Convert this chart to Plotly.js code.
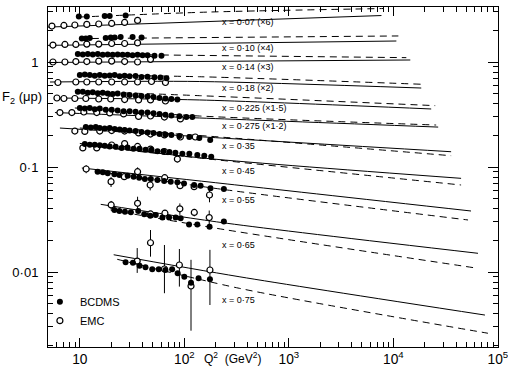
<!DOCTYPE html>
<html><head><meta charset="utf-8">
<script src="https://cdn.plot.ly/plotly-3.0.1.min.js"></script>
<style>html,body{margin:0;padding:0;background:#fff}#chart{width:508px;height:367px}</style>
</head><body><div id="chart"></div>
<script>
// x-bins and their scale factors (as printed on the chart)
const binX = ['0·07','0·10','0·14','0·18','0·225','0·275','0·35','0·45','0·55','0·65','0·75'];
const binScale = ['(×6)','(×4)','(×3)','(×2)','(×1·5)','(×1·2)','','','','',''];

// BCDMS points (Q^2 in GeV^2, F2 as plotted incl. scale factor)
const bcdmsQ = [
 [9.78,11.66,17.30,19.31,27.42],
 [10.45,11.41,12.45,17.69,19.74,21.54,24.58,31.97,38.95],
 [9.57,10.68,11.92,13.30,14.84,16.56,18.48,20.62,23.01,25.67,28.65,31.97,35.68,39.81,44.44,51.80,60.40],
 [10,11.16,12.45,13.90,15.51,17.30,19.31,21.54,24.04,26.83,29.94,34.15,38.95,44.44,51.80,59.0,67.39],
 [9.57,10.68,11.92,13.30,14.84,16.56,18.48,20.62,23.01,26.24,29.94,34.15,38.95,44.44,50.67,57.81,65.92,75.19,85.77],
 [10,11.16,12.45,13.90,15.51,17.69,20.17,23.01,26.24,29.94,34.15,38.95,44.44,50.67,57.81,65.92,75.19,89.64,104.5,119.2],
 [11.41,12.73,14.2,15.51,17.30,19.31,21.54,24.04,26.83,29.94,34.15,38.95,44.44,50.67,57.81,65.92,75.19,89.64,111.6,139.0,176.8],
 [11.16,12.45,13.90,15.51,17.30,19.31,22.03,25.12,28.65,32.68,37.28,42.53,48.49,55.33,63.10,71.97,82.1,95.7,111.6,133.0,155.1,180.8],
 [14.8,16.6,18.5,21.4,23.9,28.7,32.7,37.0,41.9,47.8,55.3,64.1,74.1,85.8,99.3,124,143,178,239],
 [21.4,23.9,27.0,30.8,36.2,41.3,47.2,53.3,61.7,71.4,82.6,92.2,110.9,133,174.2,239],
 [27.42,32.2,37.28,42.5,49.3,56.9,65.92,76.4,86.3,100,115.8,136.8,175.7]
];
const bcdmsF = [
 [2.71,2.71,2.74,2.74,2.77],
 [1.67,1.67,1.69,1.69,1.71,1.71,1.73,1.73,1.71],
 [1.19,1.18,1.19,1.18,1.19,1.17,1.18,1.17,1.18,1.17,1.17,1.16,1.17,1.16,1.16,1.15,1.15],
 [0.75,0.76,0.75,0.74,0.75,0.74,0.745,0.75,0.73,0.74,0.73,0.735,0.72,0.725,0.715,0.71,0.70],
 [0.52,0.52,0.51,0.515,0.505,0.51,0.50,0.495,0.50,0.49,0.485,0.48,0.475,0.47,0.465,0.455,0.45,0.445,0.44],
 [0.365,0.36,0.365,0.355,0.36,0.35,0.35,0.345,0.34,0.34,0.335,0.33,0.33,0.325,0.32,0.315,0.31,0.305,0.30,0.30],
 [0.240,0.2375,0.240,0.235,0.2325,0.235,0.230,0.2275,0.225,0.2225,0.220,0.2154,0.2131,0.2108,0.2062,0.204,0.2017,0.1973,0.1931,0.1889,0.1808],
 [0.166,0.163,0.163,0.161,0.159,0.157,0.156,0.152,0.153,0.149,0.149,0.146,0.146,0.141,0.141,0.139,0.137,0.134,0.134,0.130,0.128,0.125],
 [0.0902,0.0890,0.0871,0.0853,0.0839,0.0826,0.0808,0.0791,0.0769,0.0769,0.0752,0.0736,0.0725,0.0714,0.0698,0.0674,0.0664,0.0626,0.0617],
 [0.0389,0.0381,0.0375,0.0370,0.0381,0.0354,0.0343,0.0349,0.0330,0.0330,0.0330,0.0325,0.0284,0.0284,0.0270,0.0302],
 [0.01237,0.01226,0.01148,0.01108,0.0106,0.0106,0.01045,0.0106,0.00972,0.00902,0.00791,0.00871,0.00852]
];

// EMC points
const emcQ = [
 [5.41,7.04,8.96,11.66,15.17,20.17,26.83,35.68],
 [5.53,7.20,9.16,11.66,15.17,20.17,26.83,35.68],
 [5.53,7.20,9.16,11.66,15.17,20.17,26.83,35.68,47.45],
 [6.17,9.16,11.66,15.17,20.17,26.83,35.68,48.49,65.92],
 [6.04,7.04,8.96,11.41,15.17,19.74,26.83,36.48,47.45,65.92],
 [6.45,8.39,10.92,14.52,19.31,26.24,36.48,47.45,64.50,91.62],
 [8.96,11.16,15.51,20.17,26.83,36.48,47.45,64.50,91.62,127.2],
 [10.68,14.52,20.17,26.83,35.68,47.45,64.5,85.77],
 [11.5,19.9,26.6,35.7,47.1,64.9,91.0,124,174],
 [19.95,35.68,47.45,65.2,90.6,124.5,173],
 [35.4,47.45,64.5,89.64,115.8,175.7]
];
const emcF = [
 [2.20,2.23,2.25,2.28,2.30,2.33,2.38,2.49],
 [1.45,1.47,1.47,1.48,1.48,1.50,1.50,1.52],
 [1.00,1.00,1.01,1.01,1.02,1.02,1.01,1.00,1.06],
 [0.638,0.645,0.645,0.645,0.645,0.645,0.645,0.652,0.638],
 [0.454,0.449,0.449,0.449,0.444,0.444,0.439,0.435,0.435,0.425],
 [0.33,0.33,0.334,0.33,0.327,0.32,0.303,0.306,0.299,0.287],
 [0.220,0.218,0.220,0.2225,0.220,0.211,0.206,0.202,0.193,0.193],
 [0.152,0.152,0.162,0.167,0.157,0.148,0.1405,0.119],
 [0.0957,0.0725,0.0808,0.0902,0.0674,0.0791,0.0664,0.0649,0.0541],
 [0.0435,0.0451,0.0357,0.0363,0.0400,0.0369,0.0330],
 [0.0127,0.0190,0.01068,0.01166,0.00736,0.01045]
];
const emcErrUp = [
 [0.03,0.03,0.03,0.03,0.03,0.03,0.04,0.05],
 [0.02,0.02,0.02,0.02,0.02,0.02,0.02,0.03],
 [0.015,0.015,0.015,0.015,0.015,0.015,0.015,0.015,0.03],
 [0.01,0.008,0.008,0.008,0.008,0.008,0.008,0.01,0.012],
 [0.008,0.006,0.006,0.006,0.006,0.006,0.006,0.006,0.008,0.01],
 [0.006,0.005,0.005,0.005,0.005,0.005,0.006,0.006,0.012,0.014],
 [0.004,0.006,0.003,0.008,0.003,0.003,0.003,0.004,0.010,0.004],
 [0.006,0.004,0.004,0.004,0.006,0.004,0.004,0.008],
 [0.0085,0.008,0.003,0.009,0.0075,0.003,0.003,0.003,0.008],
 [0.004,0.007,0.0024,0.0024,0.005,0.003,0.0055],
 [0.0042,0.0061,0.0074,0.0049,0.0057,0.0058]
];
const emcErrDown = [
 [0.03,0.03,0.03,0.03,0.03,0.03,0.04,0.05],
 [0.02,0.02,0.02,0.02,0.02,0.02,0.02,0.03],
 [0.015,0.015,0.015,0.015,0.015,0.015,0.015,0.015,0.03],
 [0.01,0.008,0.008,0.008,0.008,0.008,0.008,0.01,0.012],
 [0.008,0.006,0.006,0.006,0.006,0.006,0.006,0.006,0.008,0.01],
 [0.006,0.005,0.005,0.005,0.005,0.005,0.006,0.006,0.012,0.014],
 [0.004,0.006,0.003,0.008,0.003,0.003,0.003,0.004,0.010,0.004],
 [0.006,0.004,0.004,0.004,0.006,0.004,0.004,0.008],
 [0.0085,0.008,0.003,0.009,0.0075,0.003,0.003,0.003,0.008],
 [0.004,0.007,0.0024,0.0024,0.005,0.003,0.0055],
 [0.0029,0.0050,0.0044,0.0044,0.0046,0.0056]
];

// QCD fit curves: solid and dashed
const solidQ = [
 [4.96,7690],[4.96,10680],[4.96,14520],[5.18,139,18480],[5.78,139,23010],[5.78,139,26830],
 [6.45,139,35680],[10,139,44440],[10.45,256.7,55330],[15.85,256.7,64500],[21.08,334.1,75190]
];
const solidF = [
 [2.15,2.77],[1.44,1.585],[0.99,1.045],[0.645,0.652,0.565],[0.454,0.435,0.357],[0.33,0.293,0.24],
 [0.235,0.1944,0.1398],[0.1675,0.1226,0.078],[0.0978,0.0689,0.0381],[0.0441,0.0291,0.01507],[0.0146,0.00902,0.00389]
];
const dashedQ = [
 [10,173,8030],[10,11160],[9.57,13300],[9.57,139,19310],[8.96,139,25120],[8.96,139,25670],
 [10,139,35680],[12.45,139,44440],[13.9,256.7,51800],[19.74,256.7,64500],[22.8,334.1,80320]
];
const dashedF = [
 [2.68,2.99,3.23],[1.67,1.77],[1.19,1.10],[0.752,0.724,0.613],[0.529,0.478,0.384],[0.365,0.306,0.251],
 [0.235,0.1995,0.1281],[0.1585,0.1218,0.0674],[0.0916,0.0604,0.0313],[0.0389,0.0251,0.01084],[0.01321,0.0070,0.00261]
];

// layout-only: label placement (paper coords)
const labelYPaper = [0.956,0.879,0.824,0.762,0.703,0.65,0.591,0.519,0.432,0.30,0.138];

const FONT = 'Liberation Sans, Arial, sans-serif';
const traces = [];
for (let i = 0; i < binX.length; i++) {
  traces.push({x: solidQ[i], y: solidF[i], mode: 'lines', line: {color: '#000', width: 1, shape: 'spline', smoothing: 0.8}, showlegend: false, hoverinfo: 'skip'});
  traces.push({x: dashedQ[i], y: dashedF[i], mode: 'lines', line: {color: '#000', width: 1, dash: '7px,5px', shape: 'spline', smoothing: 0.8}, showlegend: false, hoverinfo: 'skip'});
}
for (let i = 0; i < binX.length; i++) {
  traces.push({x: emcQ[i], y: emcF[i], mode: 'markers', name: 'EMC', legendrank: 2,
    showlegend: i === 0,
    marker: {symbol: 'circle', size: 6, color: '#fff', line: {color: '#000', width: 1.2}},
    error_y: {type: 'data', symmetric: false, array: emcErrUp[i], arrayminus: emcErrDown[i], color: '#000', thickness: 1, width: 0}});
  traces.push({x: bcdmsQ[i], y: bcdmsF[i], mode: 'markers', name: 'BCDMS', legendrank: 1,
    showlegend: i === 0,
    marker: {symbol: 'circle', size: 6, color: '#000'}});
}

const annotations = binX.map((b, i) => ({
  xref: 'paper', yref: 'paper', x: 0.382, y: labelYPaper[i], xanchor: 'left', yanchor: 'middle',
  text: 'x = ' + b + (binScale[i] ? ' ' + binScale[i] : ''), showarrow: false,
  font: {family: FONT, size: 9, color: '#000'}
}));
annotations.push({xref: 'paper', yref: 'paper', x: -0.009, y: 0.735, xanchor: 'right', yanchor: 'middle',
  text: 'F<sub>2</sub> (μp)', showarrow: false, font: {family: FONT, size: 13, color: '#000'}});
annotations.push({xref: 'paper', yref: 'paper', x: 0.342, y: -0.032, xanchor: 'left', yanchor: 'middle',
  text: 'Q<sup>2</sup>  (GeV<sup>2</sup>)', showarrow: false, font: {family: FONT, size: 12, color: '#000'}});

const layout = {
  width: 508, height: 367,
  margin: {l: 48, r: 10, t: 7, b: 20},
  paper_bgcolor: '#fff', plot_bgcolor: '#fff',
  separators: '·,',
  font: {family: FONT, color: '#000', size: 12},
  xaxis: {type: 'log', range: [Math.log10(4.96), 5.001], tickmode: 'linear', tick0: 0, dtick: 1,
    exponentformat: 'power', showexponent: 'all', ticklabeloverflow: 'allow',
    ticks: 'inside', ticklen: 9, tickwidth: 1, tickcolor: '#000', ticklabelstandoff: 0,
    showline: true, linecolor: '#000', linewidth: 1, mirror: 'allticks', showgrid: false, zeroline: false,
    tickfont: {family: FONT, size: 11},
    minor: {dtick: 'D1', ticks: 'inside', ticklen: 5, tickwidth: 1, tickcolor: '#000', showgrid: false}},
  yaxis: {type: 'log', range: [-2.7143, 0.5238], tickmode: 'linear', tick0: 0, dtick: 1,
    exponentformat: 'none',
    ticks: 'inside', ticklen: 10, tickwidth: 1, tickcolor: '#000', ticklabelstandoff: 6,
    showline: true, linecolor: '#000', linewidth: 1, mirror: 'allticks', showgrid: false, zeroline: false,
    tickfont: {family: FONT, size: 13},
    minor: {dtick: 'D1', ticks: 'inside', ticklen: 5, tickwidth: 1, tickcolor: '#000', showgrid: false}},
  showlegend: true,
  legend: {x: -0.018, y: 0.176, xanchor: 'left', yanchor: 'top', bgcolor: 'rgba(0,0,0,0)',
    font: {family: FONT, size: 11, color: '#000'}, tracegroupgap: 0, itemwidth: 30},
  annotations: annotations
};

Plotly.newPlot('chart', traces, layout, {displayModeBar: false, staticPlot: true});
</script></body></html>
